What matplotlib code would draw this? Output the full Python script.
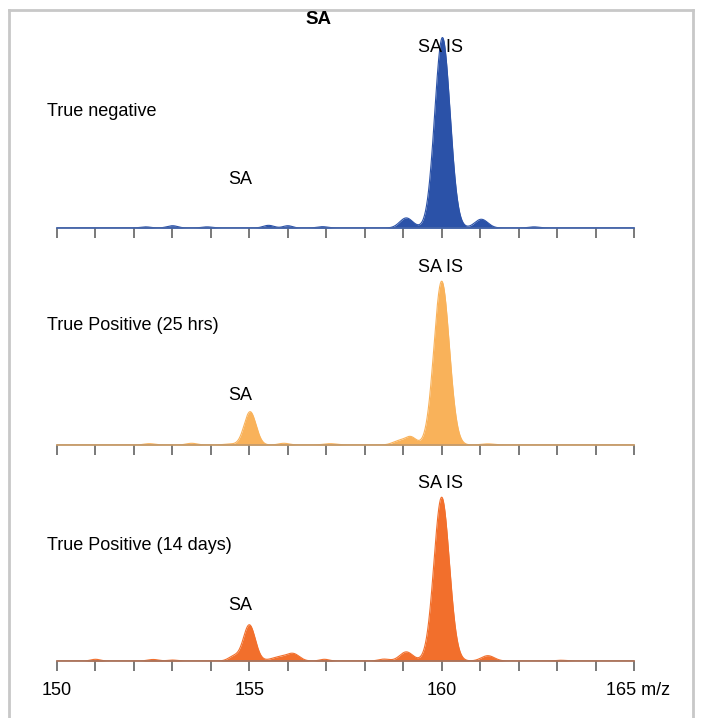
import numpy as np
import matplotlib.pyplot as plt
from matplotlib.lines import Line2D
from matplotlib.transforms import ScaledTranslation

plt.rcParams['font.family'] = ['Liberation Sans', 'DejaVu Sans']

# peak tables: centre (m/z), height (rel.), width (sigma)
neg_mz = [152.3, 153.0, 153.9, 155.5, 156.0, 156.9, 159.08, 160.02, 161.03, 162.4]
neg_h = [0.6, 1.2, 0.6, 1.4, 1.2, 0.7, 5.3, 100.0, 4.6, 0.6]
neg_w = [0.14, 0.14, 0.14, 0.14, 0.12, 0.14, 0.17, 0.2, 0.17, 0.14]

pos25_mz = [152.4, 153.5, 154.5, 155.02, 155.9, 157.1, 158.9, 159.2, 160.0, 161.2]
pos25_h = [0.7, 0.9, 0.5, 17.5, 0.9, 0.7, 2.2, 4.0, 86.0, 0.6]
pos25_w = [0.14, 0.14, 0.17, 0.155, 0.14, 0.17, 0.17, 0.14, 0.2, 0.17]

pos14_mz = [151.0, 152.5, 153.0, 154.6, 155.0, 155.8, 156.15, 156.95, 158.5, 159.08, 160.0, 161.2, 163.1]
pos14_h = [0.9, 0.8, 0.5, 2.5, 19.0, 2.2, 3.4, 0.9, 1.0, 4.8, 86.0, 2.8, 0.4]
pos14_w = [0.12, 0.14, 0.12, 0.14, 0.155, 0.22, 0.16, 0.12, 0.14, 0.17, 0.2, 0.17, 0.14]

labels = ['True negative', 'True Positive (25 hrs)', 'True Positive (14 days)']
fills = ['#2b52a8', '#f9b25a', '#f26f2c']
base_cols = ['#4565a8', '#c49a6a', '#a8735c']
tick_pos = list(range(150, 166))
tick_txt = ['150', '155', '160', '165 m/z']

W, H = 701, 718
fig = plt.figure(figsize=(W / 100, H / 100), dpi=100)


def px(x, y):
    return x / W, 1 - y / H


x = np.linspace(150, 165, 3001)
panels = [(neg_mz, neg_h, neg_w), (pos25_mz, pos25_h, pos25_w), (pos14_mz, pos14_h, pos14_w)]
bottoms = [228, 445, 661]

for i, (mz, hh, ww) in enumerate(panels):
    ax = fig.add_axes([57 / W, (H - bottoms[i]) / H, 577 / W, 200 / H])
    y = np.zeros_like(x)
    for c, h, s in zip(mz, hh, ww):
        y += h * np.exp(-0.5 * ((x - c) / s) ** 2)
    ax.fill_between(x, 0, y, color=fills[i], lw=0)
    ax.plot(x, y, color=fills[i], lw=0.8)
    ax.set_xlim(150, 165)
    ax.set_ylim(0, 105)
    for s in ['top', 'left', 'right']:
        ax.spines[s].set_visible(False)
    ax.spines['bottom'].set_color(base_cols[i])
    ax.spines['bottom'].set_linewidth(1.3)
    ax.set_yticks([])
    ax.set_xticks(tick_pos)
    ax.tick_params(axis='x', direction='out', length=7, width=1.1, color='#555555',
                   pad=8, labelsize=13)
    if i == 2:
        ax.set_xticklabels([tick_txt[k // 5] if k % 5 == 0 else '' for k in range(16)])
        lab = ax.get_xticklabels()[-1]
        lab.set_horizontalalignment('left')
        lab.set_transform(lab.get_transform() + ScaledTranslation(-28 / 100, 0, fig.dpi_scale_trans))
    else:
        ax.set_xticklabels([])
    ax.patch.set_alpha(0)

# texts
fig.text(*px(318, 20), 'SA', fontsize=13.5, fontweight='bold', ha='center', va='center')
is_y = [47, 268, 484]
sa_y = [180, 395, 606]
lab_y = [112, 326, 545]
for i in range(3):
    fig.text(*px(441, is_y[i]), 'SA IS', fontsize=13, ha='center', va='center')
    fig.text(*px(240, sa_y[i]), 'SA', fontsize=13, ha='center', va='center')
    fig.text(*px(47, lab_y[i]), labels[i], fontsize=13, ha='left', va='center')

# light grey frame (open at the bottom)
fr = dict(color='#c8c8c8', lw=2, transform=fig.transFigure)
fig.add_artist(Line2D([px(8.5, 0)[0]] * 2, [0, px(0, 9.5)[1]], **fr))
fig.add_artist(Line2D([px(693, 0)[0]] * 2, [0, px(0, 9.5)[1]], **fr))
fig.add_artist(Line2D([px(8.5, 0)[0], px(693, 0)[0]], [px(0, 9.5)[1]] * 2, **fr))

fig.savefig('out.png', dpi=100)
